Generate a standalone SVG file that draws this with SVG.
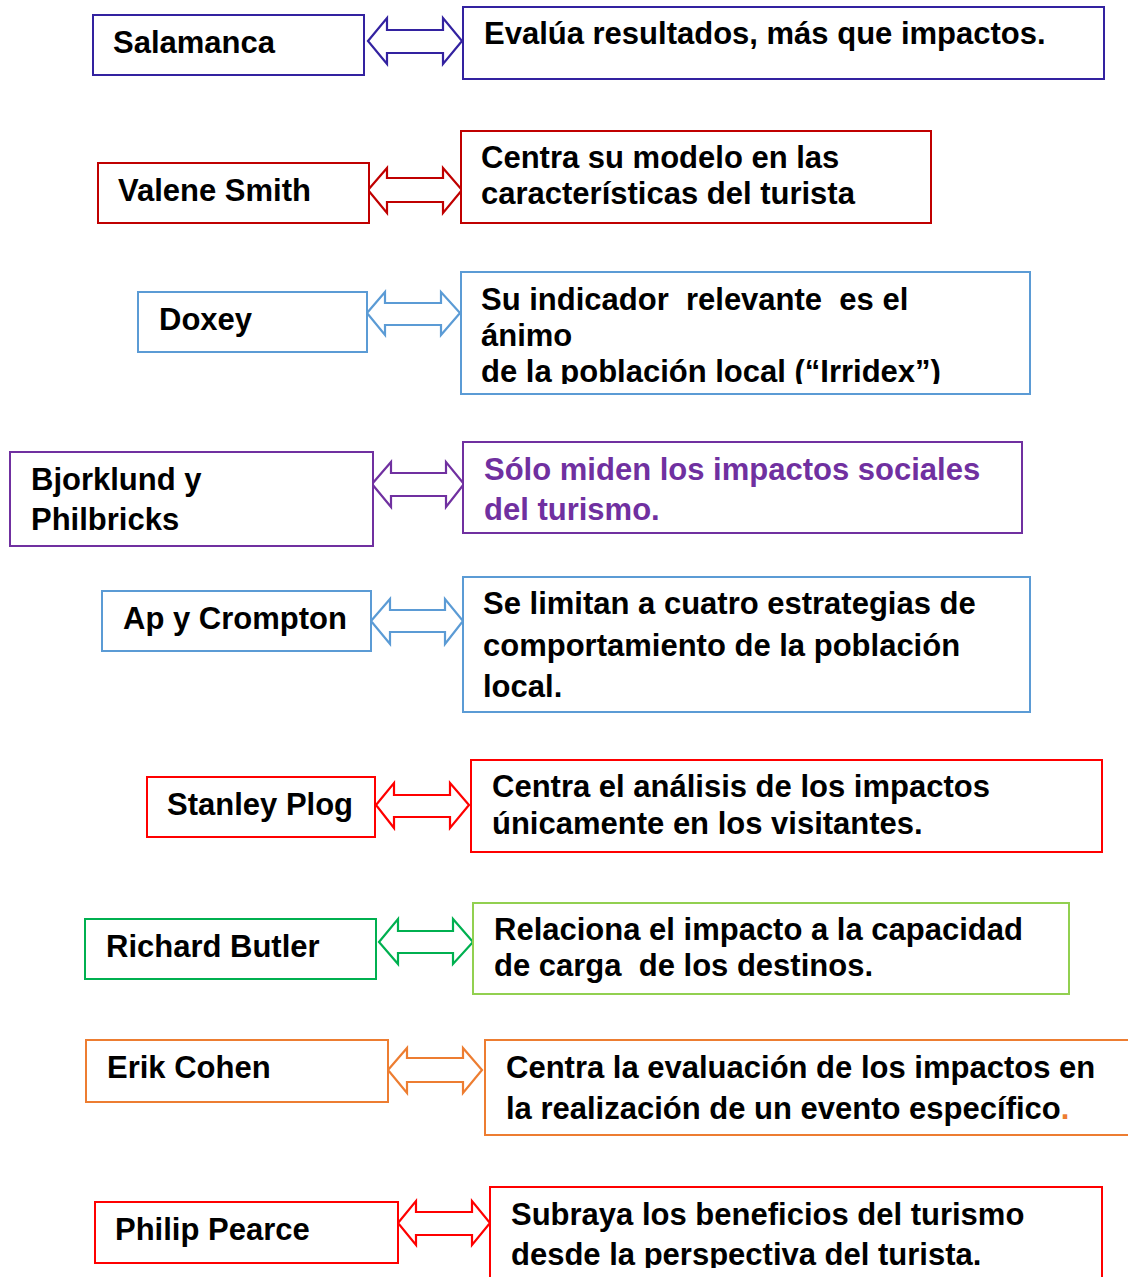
<svg xmlns="http://www.w3.org/2000/svg" width="1128" height="1277" viewBox="0 0 1128 1277">
<style>
rect{fill:#fff;stroke-width:2}
path{fill:#fff;stroke-width:2.2;stroke-linejoin:miter}
text{font-family:"Liberation Sans",Arial,sans-serif;font-weight:bold;font-size:31px;fill:#000}
.indigo{stroke:#3322A0}
.dred{stroke:#C00000}
.blue{stroke:#5B9BD5}
.purple{stroke:#7030A0}
.red{stroke:#FF0000}
.green{stroke:#00B050}
.lgreen{stroke:#92D050}
.orange{stroke:#ED7D31}
</style>
<defs>
<clipPath id="clipDoxey"><rect x="462" y="273" width="567" height="111"/></clipPath>
<clipPath id="clipPearce"><rect x="491" y="1188" width="610" height="80"/></clipPath>
</defs>
<rect x="0" y="0" width="1128" height="1277" style="fill:#fff;stroke:none"/>

<g id="connectors">
<path class="indigo" d="M368,41 L387,18 L387,30 L443,30 L443,18 L462,41 L443,64 L443,53 L387,53 L387,64 Z"/>
<path class="dred" d="M368,190 L387,168 L387,178 L443,178 L443,168 L462,190 L443,213 L443,202 L387,202 L387,213 Z"/>
<path class="blue" d="M367,313 L385,292 L385,303 L441,303 L441,292 L460,313 L441,335 L441,325 L385,325 L385,335 Z"/>
<path class="purple" d="M372,484 L391,462 L391,473 L446,473 L446,462 L464,484 L446,507 L446,496 L391,496 L391,507 Z"/>
<path class="blue" d="M371,621 L390,599 L390,610 L445,610 L445,599 L463,621 L445,644 L445,632 L390,632 L390,644 Z"/>
<path class="red" d="M376,805 L394,783 L394,795 L450,795 L450,783 L469,805 L450,828 L450,817 L394,817 L394,828 Z"/>
<path class="green" d="M379,942 L398,919 L398,931 L453,931 L453,919 L473,942 L453,964 L453,953 L398,953 L398,964 Z"/>
<path class="orange" d="M388,1070 L407,1048 L407,1058 L463,1058 L463,1048 L482,1070 L463,1093 L463,1082 L407,1082 L407,1093 Z"/>
<path class="red" d="M398,1223 L416,1201 L416,1212 L472,1212 L472,1201 L490,1223 L472,1245 L472,1235 L416,1235 L416,1245 Z"/>
</g>

<g id="salamanca"><rect class="indigo" x="93" y="15" width="271" height="60"/><text x="113" y="53">Salamanca</text></g>
<g id="salamanca-desc"><rect class="indigo" x="463" y="7" width="641" height="72"/><text x="484" y="44">Evalúa resultados, más que impactos.</text></g>

<g id="valene"><rect class="dred" x="98" y="163" width="271" height="60"/><text x="118" y="201">Valene Smith</text></g>
<g id="valene-desc"><rect class="dred" x="461" y="131" width="470" height="92"/><text x="481" y="168">Centra su modelo en las</text><text x="481" y="204">características del turista</text></g>

<g id="doxey"><rect class="blue" x="138" y="292" width="229" height="60"/><text x="159" y="330">Doxey</text></g>
<g id="doxey-desc"><rect class="blue" x="461" y="272" width="569" height="122"/>
<g clip-path="url(#clipDoxey)"><text x="481" y="310" xml:space="preserve">Su indicador  relevante  es el</text><text x="481" y="346">ánimo</text><text x="481" y="382">de la población local (“Irridex”)</text></g></g>

<g id="bjorklund"><rect class="purple" x="10" y="452" width="363" height="94"/><text x="31" y="490">Bjorklund y</text><text x="31" y="530">Philbricks</text></g>
<g id="bjorklund-desc"><rect class="purple" x="463" y="442" width="559" height="91"/><text x="484" y="480" style="fill:#7030A0">Sólo miden los impactos sociales</text><text x="484" y="520" style="fill:#7030A0">del turismo.</text></g>

<g id="ap"><rect class="blue" x="102" y="591" width="269" height="60"/><text x="123" y="629">Ap y Crompton</text></g>
<g id="ap-desc"><rect class="blue" x="463" y="577" width="567" height="135"/><text x="483" y="614">Se limitan a cuatro estrategias de</text><text x="483" y="656">comportamiento de la población</text><text x="483" y="697">local.</text></g>

<g id="plog"><rect class="red" x="147" y="777" width="228" height="60"/><text x="167" y="815">Stanley Plog</text></g>
<g id="plog-desc"><rect class="red" x="471" y="760" width="631" height="92"/><text x="492" y="797">Centra el análisis de los impactos</text><text x="492" y="834">únicamente en los visitantes.</text></g>

<g id="butler"><rect class="green" x="85" y="919" width="291" height="60"/><text x="106" y="957">Richard Butler</text></g>
<g id="butler-desc"><rect class="lgreen" x="473" y="903" width="596" height="91"/><text x="494" y="940">Relaciona el impacto a la capacidad</text><text x="494" y="976" xml:space="preserve">de carga  de los destinos.</text></g>

<g id="cohen"><rect class="orange" x="86" y="1040" width="302" height="62"/><text x="107" y="1078">Erik Cohen</text></g>
<g id="cohen-desc"><rect class="orange" x="485" y="1040" width="660" height="95"/><text x="506" y="1078">Centra la evaluación de los impactos en</text><text x="506" y="1119">la realización de un evento específico<tspan style="fill:#ED7D31">.</tspan></text></g>

<g id="pearce"><rect class="red" x="95" y="1202" width="303" height="61"/><text x="115" y="1240">Philip Pearce</text></g>
<g id="pearce-desc"><rect class="red" x="490" y="1187" width="612" height="100"/>
<g clip-path="url(#clipPearce)"><text x="511" y="1225">Subraya los beneficios del turismo</text><text x="511" y="1265">desde la perspectiva del turista.</text></g></g>
</svg>
